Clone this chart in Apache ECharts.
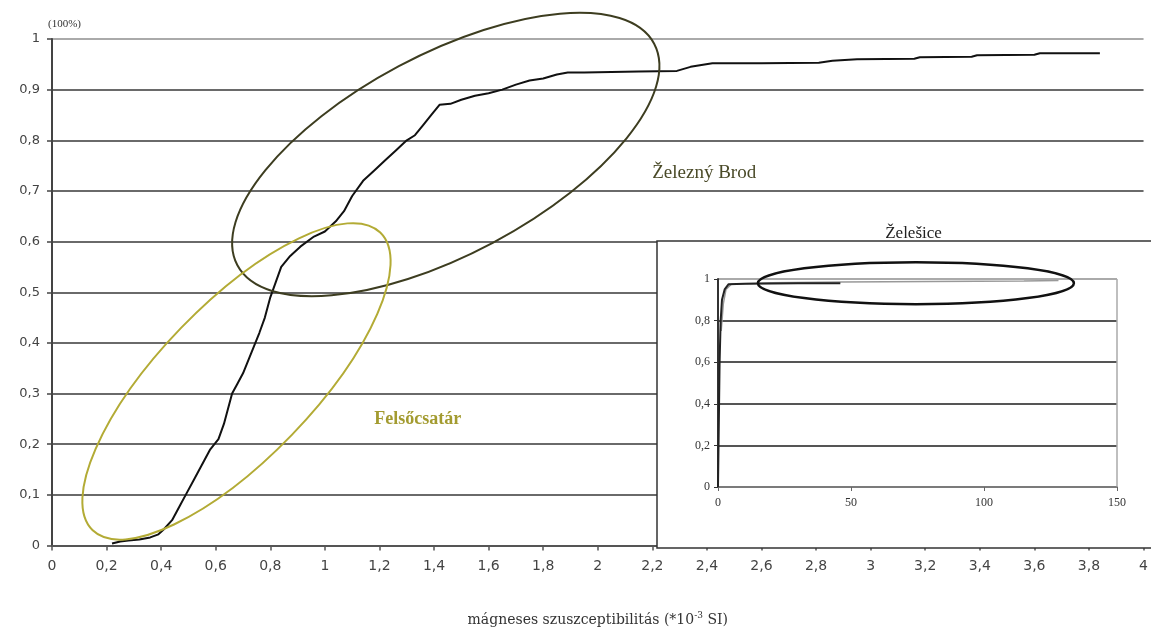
<!DOCTYPE html>
<html>
<head>
<meta charset="utf-8">
<script src="https://cdn.jsdelivr.net/npm/echarts@6/dist/echarts.min.js"></script>
<style>html,body{margin:0;padding:0;background:#fff}#c{width:1151px;height:632px}</style>
</head>
<body>
<div id="c"></div>
<script>
// Main cumulative curve (Železný Brod / Felsőcsatár)
const mainX = [0.22,0.25,0.28,0.32,0.36,0.39,0.41,0.44,0.47,0.49,0.52,0.55,0.58,0.61,0.63,0.66,0.68,0.70,0.73,0.76,0.78,0.80,0.82,0.84,0.87,0.91,0.96,1.00,1.04,1.07,1.10,1.14,1.18,1.22,1.26,1.30,1.33,1.36,1.39,1.42,1.46,1.50,1.55,1.60,1.65,1.70,1.75,1.80,1.85,1.89,1.95,2.05,2.15,2.29,2.34,2.42,2.60,2.81,2.86,2.95,3.16,3.18,3.37,3.39,3.60,3.62,3.84];
const mainY = [0.004,0.008,0.010,0.012,0.016,0.022,0.032,0.05,0.08,0.10,0.13,0.16,0.19,0.21,0.24,0.30,0.32,0.34,0.38,0.42,0.45,0.49,0.52,0.55,0.57,0.59,0.61,0.62,0.64,0.66,0.69,0.72,0.74,0.76,0.78,0.80,0.81,0.83,0.85,0.87,0.872,0.88,0.888,0.893,0.90,0.91,0.918,0.922,0.93,0.934,0.934,0.935,0.936,0.937,0.945,0.952,0.952,0.953,0.957,0.960,0.961,0.964,0.965,0.968,0.969,0.972,0.972];
// Inset (Želešice)
const insetX = [0, 0.3, 0.6, 1, 1.5, 2.5, 4, 10, 20, 30, 46];
const insetY = [0, 0.3, 0.6, 0.8, 0.9, 0.95, 0.975, 0.977, 0.978, 0.979, 0.98];
const insetX2 = [1.2, 2, 3, 5, 20, 46, 80, 115, 128];
const insetY2 = [0.75, 0.88, 0.95, 0.975, 0.982, 0.985, 0.988, 0.99, 0.993];
// Annotations
const groups = ['Železný Brod', 'Felsőcsatár'];
const xName = 'mágneses szuszceptibilitás (*10';

const comma = v => String(Math.round(v * 10) / 10).replace('.', ',');
const toPairs = (xs, ys) => xs.map((x, i) => [x, ys[i]]);

const chart = echarts.init(document.getElementById('c'));
const grid10 = ['#555','#6a6a6a','#6a6a6a','#6a6a6a','#6a6a6a','#6a6a6a','#6a6a6a','#6a6a6a','#6a6a6a','#6a6a6a','#aaa'];
chart.setOption({
  animation: false,
  grid: [
    {left: 52, right: 4, top: 39, bottom: 84},
    {left: 718, right: 34, top: 279, bottom: 145}
  ],
  xAxis: [
    {type: 'value', gridIndex: 0, min: 0, max: 4, interval: 0.2,
     axisLine: {lineStyle: {color: '#555', width: 2}},
     axisTick: {length: 5, lineStyle: {color: '#555', width: 1.5}},
     axisLabel: {formatter: comma, color: '#444', fontFamily: 'DejaVu Sans', fontSize: 14, margin: 14},
     splitLine: {show: false},
     name: '{t|' + xName + '}{s|-3}{t| SI)}', nameLocation: 'middle', nameGap: 66,
     nameTextStyle: {rich: {
       t: {fontFamily: 'DejaVu Serif', fontSize: 14, color: '#333'},
       s: {fontFamily: 'DejaVu Serif', fontSize: 9, color: '#333', verticalAlign: 'top', padding: [0,0,8,0]}}}
    },
    {type: 'value', gridIndex: 1, min: 0, max: 150, interval: 50, z: 10,
     axisLine: {lineStyle: {color: '#888', width: 1.5}},
     axisTick: {length: 4, lineStyle: {color: '#666'}},
     axisLabel: {color: '#333', fontFamily: 'Liberation Serif', fontSize: 12, margin: 10},
     splitLine: {show: true, lineStyle: {color: ['transparent','transparent','transparent','#aaa'], width: 1.5}}
    }
  ],
  yAxis: [
    {type: 'value', gridIndex: 0, min: 0, max: 1, interval: 0.1,
     axisLine: {show: true, lineStyle: {color: '#444', width: 2}},
     axisTick: {show: true, length: 5, lineStyle: {color: '#444', width: 1.5}},
     axisLabel: {formatter: comma, color: '#444', fontFamily: 'DejaVu Sans', fontSize: 13, margin: 12},
     splitLine: {lineStyle: {color: grid10, width: 2}}
    },
    {type: 'value', gridIndex: 1, min: 0, max: 1, interval: 0.2, z: 10,
     axisLine: {show: true, lineStyle: {color: '#333', width: 2}},
     axisTick: {show: true, length: 4, lineStyle: {color: '#333'}},
     axisLabel: {formatter: comma, color: '#333', fontFamily: 'Liberation Serif', fontSize: 12, margin: 8},
     splitLine: {lineStyle: {color: ['#555','#555','#555','#555','#555','#aaa'], width: 2}}
    }
  ],
  series: [
    {type: 'line', xAxisIndex: 0, yAxisIndex: 0, data: toPairs(mainX, mainY), showSymbol: false,
     lineStyle: {color: '#111', width: 2}, z: 3},
    {type: 'line', xAxisIndex: 1, yAxisIndex: 1, data: toPairs(insetX2, insetY2), showSymbol: false,
     lineStyle: {color: '#999', width: 1.5}, z: 11},
    {type: 'line', xAxisIndex: 1, yAxisIndex: 1, data: toPairs(insetX, insetY), showSymbol: false,
     lineStyle: {color: '#222', width: 2}, z: 12}
  ]
});

const p = (g, pt) => chart.convertToPixel({gridIndex: g}, pt);
const zb = p(0, [1.443, 0.772]);
const fc = p(0, [0.676, 0.324]);
const ze = p(1, [74.4, 0.98]);
const zbT = p(0, [2.39, 0.735]);
const fcT = p(0, [1.34, 0.25]);
const ttl = p(1, [73.5, 1.22]);
const deg = Math.PI / 180;
chart.setOption({
  graphic: [
    {type: 'rect', z: 5, shape: {x: 657, y: 241, width: 520, height: 307},
     style: {fill: '#fff', stroke: '#333', lineWidth: 1.5}},
    {type: 'ellipse', z: 20, x: zb[0], y: zb[1], rotation: 28 * deg, shape: {cx: 0, cy: 0, rx: 236, ry: 100},
     style: {fill: null, stroke: '#3d3d20', lineWidth: 2}},
    {type: 'ellipse', z: 20, x: fc[0], y: fc[1], rotation: 46 * deg, shape: {cx: 0, cy: 0, rx: 207, ry: 77},
     style: {fill: null, stroke: '#b3ab35', lineWidth: 2}},
    {type: 'ellipse', z: 20, x: ze[0], y: ze[1], shape: {cx: 0, cy: 0, rx: 158, ry: 21},
     style: {fill: null, stroke: '#111', lineWidth: 2.5}},
    {type: 'text', z: 20, x: zbT[0], y: zbT[1], style: {text: groups[0], fill: '#4a4a28', font: '19px "Liberation Serif"', textAlign: 'center', textVerticalAlign: 'middle'}},
    {type: 'text', z: 20, x: fcT[0], y: fcT[1], style: {text: groups[1], fill: '#a39b30', font: 'bold 18px "Liberation Serif"', textAlign: 'center', textVerticalAlign: 'middle'}},
    {type: 'text', z: 20, x: ttl[0], y: ttl[1], style: {text: 'Želešice', fill: '#222', font: '17px "Liberation Serif"', textAlign: 'center', textVerticalAlign: 'middle'}},
    {type: 'text', z: 20, x: 48, y: 24, style: {text: '(100%)', fill: '#333', font: '11px "Liberation Serif"', textAlign: 'left', textVerticalAlign: 'middle'}}
  ]
});
</script>
</body>
</html>
